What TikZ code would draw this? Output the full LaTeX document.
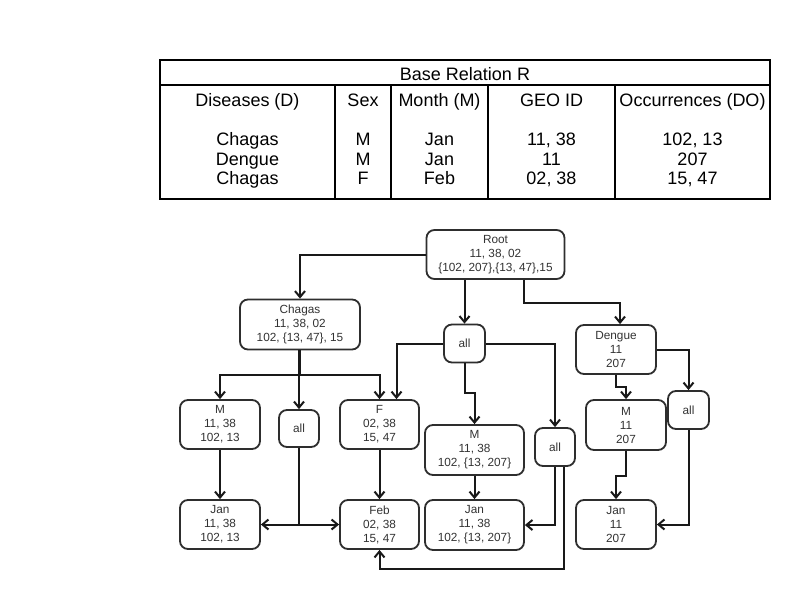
\documentclass[tikz,border=0pt]{standalone}
\usepackage{fontspec}
\setmainfont{Liberation Sans}
\usetikzlibrary{arrows.meta}
\begin{document}
\begin{tikzpicture}[x=1pt,y=-1pt,
  nbox/.style={draw=black!82, line width=1.8pt, rounded corners=8pt, align=center,
    text=black!80, inner sep=0pt, font=\fontsize{11.8}{14}\selectfont},
  tbl/.style={line width=2pt, draw=black},
  ttext/.style={align=center, inner sep=0pt, text=black, anchor=base, font=\fontsize{18}{19.5}\selectfont},
  conn/.style={line width=2pt, draw=black!90, -{Straight Barb[length=6pt,width=10pt]}}
]
\useasboundingbox (0,0) rectangle (792,592);
\fill[white] (0,0) rectangle (792,592);

% ---- table ----
\draw[tbl] (160,60) rectangle (770,199);
\draw[tbl] (160,85) -- (770,85);
\foreach \x in {335,391,488,615} \draw[tbl] (\x,85) -- (\x,199);
\node[ttext] (title) at (465,80) {Base Relation R};
\node[ttext] (h1) at (247.5,106.5) {Diseases (D)};
\node[ttext] (h2) at (363,106.5) {Sex};
\node[ttext] (h3) at (439.5,106.5) {Month (M)};
\node[ttext] (h4) at (551.5,106.5) {GEO ID};
\node[ttext] (h5) at (692.5,106.5) {Occurrences (DO)};
\node[ttext] (c1) at (247.5,184.5) {Chagas\\Dengue\\Chagas};
\node[ttext] (c2) at (363,184.5) {M\\M\\F};
\node[ttext] (c3) at (439.5,184.5) {Jan\\Jan\\Feb};
\node[ttext] (c4) at (551.5,184.5) {11, 38\\11\\02, 38};
\node[ttext] (c5) at (692.5,184.5) {102, 13\\207\\15, 47};

% ---- lattice ----
\node[nbox, minimum width=138pt, minimum height=49pt] (root) at (495.5,254.5) {Root\\11, 38, 02\\\{102, 207\},\{13, 47\},15};
\node[nbox, minimum width=120pt, minimum height=50pt] (chagas) at (300,324.5) {Chagas\\11, 38, 02\\102, \{13, 47\}, 15};
\node[nbox, minimum width=41pt, minimum height=38pt] (allm) at (464.5,343.5) {all};
\node[nbox, minimum width=80pt, minimum height=49pt] (dengue) at (616,349.5) {Dengue\\11\\207};
\node[nbox, minimum width=80pt, minimum height=49pt] (m1) at (220,424.5) {M\\11, 38\\102, 13};
\node[nbox, minimum width=40pt, minimum height=37pt] (all1) at (299,428.5) {all};
\node[nbox, minimum width=79pt, minimum height=49pt] (f) at (379.5,424.5) {F\\02, 38\\15, 47};
\node[nbox, minimum width=99pt, minimum height=50pt] (m2) at (474.5,450) {M\\11, 38\\102, \{13, 207\}};
\node[nbox, minimum width=40pt, minimum height=38pt] (all2) at (555,447) {all};
\node[nbox, minimum width=80pt, minimum height=50pt] (m3) at (626,425) {M\\11\\207};
\node[nbox, minimum width=41pt, minimum height=38pt] (all3) at (688.5,410) {all};
\node[nbox, minimum width=80pt, minimum height=49pt] (jan1) at (220,524.5) {Jan\\11, 38\\102, 13};
\node[nbox, minimum width=79pt, minimum height=49pt] (feb) at (379.5,524.5) {Feb\\02, 38\\15, 47};
\node[nbox, minimum width=99pt, minimum height=50pt] (jan2) at (474.5,525) {Jan\\11, 38\\102, \{13, 207\}};
\node[nbox, minimum width=80pt, minimum height=49pt] (jan3) at (616,524.5) {Jan\\11\\207};

% connectors
\draw[conn] (root.west) -| (chagas.north);
\draw[conn] (allm.north |- root.south) -- (allm.north);
\draw[conn] ([xshift=28.5pt]root.south) -- ++(0,23) -| ([xshift=4pt]dengue.north);

\draw[conn] (chagas.south) -- ++(0,25) -| (m1.north);
\draw[conn] (chagas.south) -- ++(0,25) -| (f.north);
\draw[conn] (all1.north |- chagas.south) -- (all1.north);

\draw[conn] (allm.west) -| ([xshift=17pt]f.north);
\draw[conn] (allm.east) -| (all2.north);
\draw[conn] (allm.south) -- ++(0,30) -| (m2.north);

\draw[conn] (dengue.east) -| (all3.north);
\draw[conn] (dengue.south) -- ++(0,12) -| (m3.north);

\draw[conn] (m1.south) -- (jan1.north);
\draw[conn] (f.south) -- (feb.north);
\draw[conn] (m2.south) -- (jan2.north);
\draw[conn] (m3.south) -- ++(0,25) -| (jan3.north);

\draw[conn] (all1.south) |- (jan1.east);
\draw[conn] (all1.south) |- (feb.west);
\draw[conn] (all2.south) |- (jan2.east);
\draw[conn] ([xshift=9pt]all2.south) -- ++(0,102) -| (feb.south);
\draw[conn] (all3.south) |- (jan3.east);
\end{tikzpicture}
\end{document}
